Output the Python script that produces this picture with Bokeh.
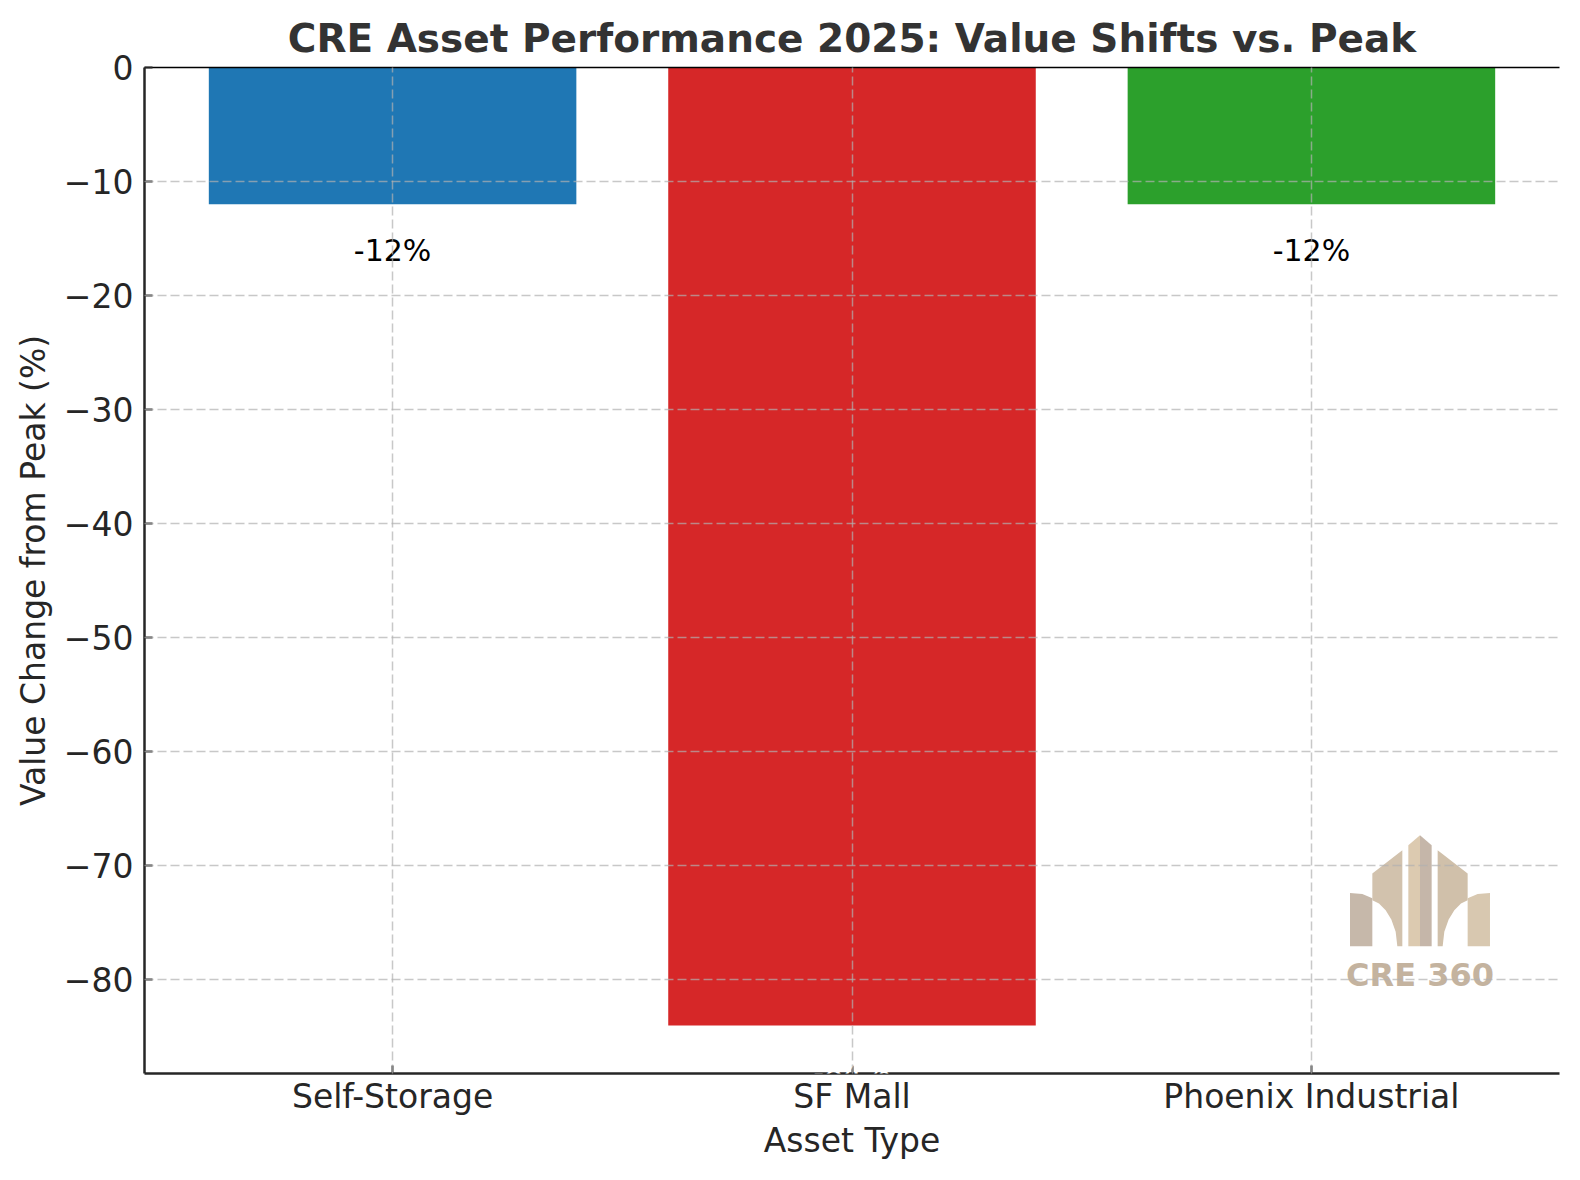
from bokeh.plotting import figure
from bokeh.models import (Range1d, FixedTicker, LinearAxis, LabelSet,
                          ColumnDataSource, PolyAnnotation, Label)
from bokeh.core.properties import value
from bokeh.embed import file_html
from bokeh.resources import INLINE

# data
assets = ["Self-Storage", "SF Mall", "Phoenix Industrial"]
changes = [-12, -84, -12]
bar_colors = ["#1f77b4", "#d62728", "#2ca02c"]
y_ticks = [0, -10, -20, -30, -40, -50, -60, -70, -80]

idx = list(range(len(assets)))
labels = [f"{v}%" for v in changes]
label_colors = ["white" if v < -50 else "black" for v in changes]
label_y = [v - 5 for v in changes]

src = ColumnDataSource(dict(x=idx, top=[0] * len(idx), bottom=changes,
                            color=bar_colors, label=labels,
                            label_y=label_y, label_color=label_colors))

FONT = "DejaVu Sans"
DARK = "#262626"

p = figure(width=1564, height=1164, output_backend="svg", toolbar_location=None,
           x_range=Range1d(-0.54, 2.54), y_range=Range1d(-88.2, 0),
           min_border_left=144, min_border_right=5, min_border_top=67,
           min_border_bottom=91,
           title="CRE Asset Performance 2025: Value Shifts vs. Peak")
p.outline_line_color = None
p.background_fill_color = "white"

p.title.align = "center"
p.title.text_font = FONT
p.title.text_font_size = "39px"
p.title.text_font_style = "bold"
p.title.text_color = "#333333"
p.title.standoff = 14

p.vbar(x="x", top="top", bottom="bottom", width=0.8, fill_color="color",
       line_color=None, source=src)

# axes
xa = p.xaxis[0]
xa.ticker = FixedTicker(ticks=idx)
xa.major_label_overrides = {i: a for i, a in zip(idx, assets)}
xa.axis_label = "Asset Type"
ya = p.yaxis[0]
ya.ticker = FixedTicker(ticks=y_ticks)
ya.major_label_overrides = {t: str(t).replace("-", "\u2212") for t in y_ticks}
ya.axis_label = "Value Change from Peak (%)"

for ax in (xa, ya):
    ax.axis_line_color = DARK
    ax.axis_line_width = 2.5
    ax.major_tick_line_color = DARK
    ax.major_tick_line_width = 2
    ax.major_tick_in = 8
    ax.major_tick_out = 0
    ax.minor_tick_line_color = None
    ax.major_label_text_font = FONT
    ax.major_label_text_font_size = "33px"
    ax.major_label_text_color = DARK
    ax.axis_label_text_font = FONT
    ax.axis_label_text_font_size = "33px"
    ax.axis_label_text_font_style = "normal"
    ax.axis_label_text_color = DARK
xa.major_label_standoff = 3
xa.axis_label_standoff = 2
ya.major_label_standoff = 11
ya.axis_label_standoff = 8

top_axis = LinearAxis(ticker=FixedTicker(ticks=[]), major_tick_in=0, major_tick_out=0,
                      minor_tick_line_color=None, major_label_text_font_size="0px",
                      major_label_standoff=0, axis_line_color="black", axis_line_width=1.5)
p.add_layout(top_axis, "above")

p.xgrid.ticker = FixedTicker(ticks=idx)
p.ygrid.ticker = FixedTicker(ticks=y_ticks)
for g in (p.xgrid, p.ygrid):
    g.grid_line_color = "#b0b0b0"
    g.grid_line_alpha = 0.7
    g.grid_line_width = 1.5
    g.grid_line_dash = "9 4"
    g.level = "overlay"

# watermark logo (local pixel-ish units, anchored in the lower right)
x_px = 459.5   # px per category slot
y_px = 11.41   # px per percent
lx0, ly0 = 2.084, -67.31


def to_data(pts):
    xs = [lx0 + (u - 58) / 3 / x_px for u, v in pts]
    ys = [ly0 - (v - 45) / 3 / y_px for u, v in pts]
    return xs, ys


logo_parts = [
    ([(58, 218), (95, 221), (125, 234), (125, 378), (58, 378)], "#c6b8aa"),
    ([(125, 160), (215, 90), (215, 378), (200, 378), (195, 335), (182, 298),
      (165, 270), (145, 250), (125, 240)], "#d2c2ad"),
    ([(233, 75), (268, 45), (268, 378), (233, 378)], "#dccab0"),
    ([(268, 45), (303, 75), (303, 378), (268, 378)], "#c5b6a9"),
    ([(411, 160), (321, 90), (321, 378), (336, 378), (341, 335), (354, 298),
      (371, 270), (391, 250), (411, 240)], "#d0c0aa"),
    ([(478, 218), (441, 221), (411, 234), (411, 378), (478, 378)], "#d8c8b0"),
]
for pts, col in logo_parts:
    xs, ys = to_data(pts)
    p.add_layout(PolyAnnotation(xs=xs, ys=ys, fill_color=col, fill_alpha=1.0,
                                line_color=None))

tx, ty = to_data([(268, 465)])
p.add_layout(Label(x=tx[0], y=ty[0], text="CRE 360", text_font=FONT,
                   text_font_size="32px", text_font_style="bold",
                   text_color="#c4b39f", text_align="center",
                   text_baseline="middle"))

# value labels
p.add_layout(LabelSet(x="x", y="label_y", text="label", source=src,
                      text_color="label_color", text_font=value(FONT),
                      text_font_size="30px", text_align="center",
                      text_baseline="alphabetic"))

open("out.html", "w").write(file_html(p, INLINE))
